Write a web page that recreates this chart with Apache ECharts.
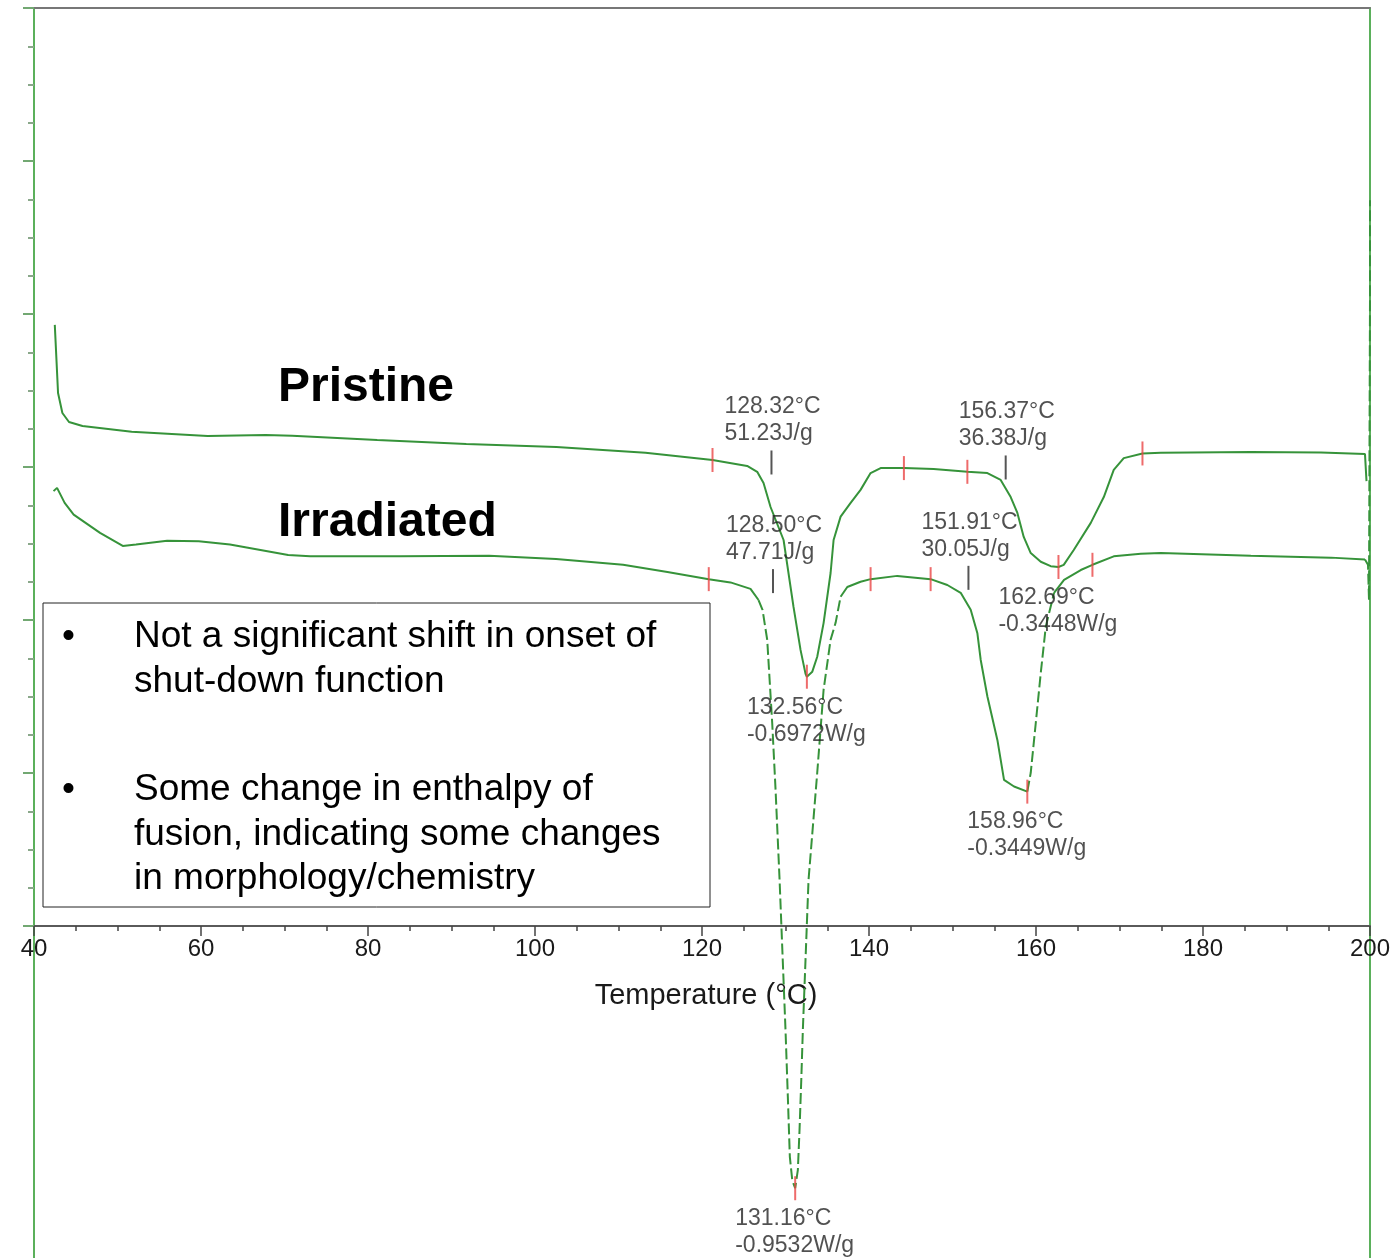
<!DOCTYPE html>
<html>
<head>
<meta charset="utf-8">
<script src="https://cdn.jsdelivr.net/npm/echarts@6/dist/echarts.min.js"></script>
<style>
  html, body { margin: 0; padding: 0; background: #ffffff; }
  #chart { width: 1394px; height: 1258px; }
</style>
</head>
<body>
<div id="chart"></div>
<script>
// DSC heat-flow traces, temperature in °C, heat flow in W/g
const tempP = [42.49, 42.88, 43.40, 44.19, 45.81, 51.70, 60.79, 67.74, 70.92, 81.11, 91.77, 102.56, 113.23, 121.26,
  125.41, 126.61, 127.37, 128.21, 129.77, 130.96, 131.80, 132.40, 132.56, 133.21, 133.80, 134.56, 135.40, 135.76,
  136.60, 137.80, 138.99, 140.19, 141.39, 144.18, 147.74, 151.78, 154.18, 155.77, 156.97, 157.77, 158.53, 159.37,
  160.57, 161.76, 162.69, 163.32, 164.52, 166.56, 168.12, 169.31, 170.51, 172.75, 174.95, 185.73, 194.12, 199.40, 199.58];
const heatFlowP = [0.433, 0.214, 0.150, 0.121, 0.108, 0.090, 0.076, 0.079, 0.077, 0.063, 0.050, 0.041, 0.022, -0.001,
  -0.020, -0.039, -0.075, -0.152, -0.258, -0.473, -0.611, -0.688, -0.6972, -0.681, -0.633, -0.525, -0.364, -0.258,
  -0.183, -0.139, -0.097, -0.043, -0.027, -0.027, -0.030, -0.039, -0.043, -0.065, -0.120, -0.171, -0.248, -0.300,
  -0.328, -0.342, -0.3448, -0.338, -0.290, -0.203, -0.120, -0.033, 0.005, 0.020, 0.022, 0.025, 0.023, 0.018, -0.069];

const tempI = [42.34, 42.76, 43.67, 44.75, 47.91, 50.63, 52.22, 55.94, 59.73, 63.47, 70.44, 73.08, 83.80, 94.51,
  102.52, 110.55, 115.86, 120.81, 123.41, 125.81, 126.77, 127.25, 127.81, 128.41, 128.81, 129.29, 130.00, 130.28,
  130.52, 130.81, 131.16, 131.48, 131.68, 131.89, 132.08, 132.76, 133.80, 134.56, 135.40, 136.00, 136.60, 137.40,
  138.99, 140.19, 143.39, 147.38, 149.38, 150.98, 152.18, 152.98, 153.38, 154.18, 155.38, 156.17, 157.37, 158.96,
  159.37, 159.97, 160.57, 161.17, 162.16, 163.36, 165.36, 166.76, 169.31, 172.55, 174.95, 185.73, 195.32, 199.40,
  199.76, 199.88, 200.00, 200.00];
const heatFlowI = [0.116, 0.121, 0.098, 0.080, 0.052, 0.032, 0.034, 0.040, 0.039, 0.034, 0.018, 0.016, 0.016, 0.017,
  0.012, 0.003, -0.008, -0.019, -0.024, -0.034, -0.051, -0.066, -0.112, -0.240, -0.342, -0.480, -0.710, -0.813,
  -0.905, -0.941, -0.9532, -0.925, -0.864, -0.787, -0.710, -0.480, -0.316, -0.189, -0.112, -0.086, -0.046, -0.031,
  -0.023, -0.019, -0.014, -0.019, -0.028, -0.040, -0.066, -0.102, -0.143, -0.199, -0.266, -0.327, -0.337, -0.3449,
  -0.316, -0.240, -0.163, -0.092, -0.040, -0.020, -0.005, 0.003, 0.016, 0.020, 0.021, 0.017, 0.014, 0.011,
  0.003, -0.051, 0.409, 0.562];

// integration limits
const limitTempP = [121.26, 144.18, 151.78, 172.75];
const limitHFP = [-0.001, -0.027, -0.039, 0.020];
const limitTempI = [120.81, 140.19, 147.38, 166.76];
const limitHFI = [-0.019, -0.019, -0.019, 0.003];

// onset temperatures and enthalpies of fusion
const onsetTempP = [128.32, 156.37];
const enthalpyP = [51.23, 36.38];
const onsetMarkHFP = [-0.009, -0.025];
const onsetTempI = [128.50, 151.91];
const enthalpyI = [47.71, 30.05];
const onsetMarkHFI = [-0.022, -0.017];

// peak temperatures and heat flow
const peakTempP = [132.56, 162.69];
const peakHFP = [-0.6972, -0.3448];
const peakTempI = [131.16, 158.96];
const peakHFI = [-0.9532, -0.3449];

// x-axis
const tempMin = 40, tempMax = 200, tempStep = 20;

const FONT = '"Liberation Sans", Arial, Helvetica, sans-serif';
const CURVE = '#36933a';
const AXIS_GREEN = '#5bb05b';
const LIMIT_RED = '#ea4646';

// steep stretches of the irradiated trace are drawn broken
const brokenSpansI = [[126.77, 136.60], [158.96, 162.16], [199.40, 200.00]];

function zip(a, b) { return a.map((v, i) => [v, b[i]]); }

function splitByStyle(T, V, spans) {
  const pieces = [];
  let cur = null;
  for (let i = 0; i < T.length - 1; i++) {
    const mid = (T[i] + T[i + 1]) / 2;
    const dashed = spans.some(([a, b]) => mid >= a && mid <= b);
    if (!cur || cur.dashed !== dashed) {
      cur = { dashed, data: [[T[i], V[i]]] };
      pieces.push(cur);
    }
    cur.data.push([T[i + 1], V[i + 1]]);
  }
  return pieces;
}

function curveSeries(name, data, yIdx, dashed) {
  return {
    name, type: 'line', data, xAxisIndex: 0, yAxisIndex: yIdx,
    showSymbol: false, symbol: 'none', clip: false, silent: true, z: 3,
    lineStyle: { color: CURVE, width: 2, type: dashed ? [11, 4] : 'solid' }
  };
}

function tickSeries(data, yIdx, color, label) {
  return {
    type: 'scatter', data, xAxisIndex: 0, yAxisIndex: yIdx, clip: false, silent: true, z: 5,
    symbol: 'rect', symbolSize: [2, 24],
    itemStyle: { color },
    label: label || { show: false }
  };
}

const annotationText = { fontFamily: FONT, fontSize: 23, lineHeight: 27, color: '#262626', align: 'left', verticalAlign: 'top' };

const onsetLabel = (enth) => Object.assign({
  show: true, position: [-46, -57],
  formatter: (p) => p.value[0].toFixed(2) + '°C\n' + enth[p.dataIndex].toFixed(2) + 'J/g'
}, annotationText);

const peakLabel = Object.assign({
  show: true, position: [-59, 29],
  formatter: (p) => p.value[0].toFixed(2) + '°C\n' + p.value[1].toFixed(4) + 'W/g'
}, annotationText);

const series = [];
series.push(curveSeries('Pristine', zip(tempP, heatFlowP), 2, false));
splitByStyle(tempI, heatFlowI, brokenSpansI).forEach(piece => {
  series.push(curveSeries('Irradiated', piece.data, 3, piece.dashed));
});
series.push(tickSeries(zip(limitTempP, limitHFP), 2, LIMIT_RED));
series.push(tickSeries(zip(limitTempI, limitHFI), 3, LIMIT_RED));
series.push(tickSeries(zip(peakTempP, peakHFP), 2, LIMIT_RED, peakLabel));
series.push(tickSeries(zip(peakTempI, peakHFI), 3, LIMIT_RED, peakLabel));
series.push(tickSeries(zip(onsetTempP, onsetMarkHFP), 2, '#2a2a2a', onsetLabel(enthalpyP)));
series.push(tickSeries(zip(onsetTempI, onsetMarkHFI), 3, '#2a2a2a', onsetLabel(enthalpyI)));

const chart = echarts.init(document.getElementById('chart'), null, { renderer: 'canvas' });

chart.setOption({
  animation: false,
  backgroundColor: '#ffffff',
  grid: [
    { left: 34, right: 24, top: 8, height: 918 },
    { left: 34, right: 24, top: 926, bottom: 0 }
  ],
  xAxis: [
    {
      type: 'value', gridIndex: 0, position: 'bottom', min: tempMin, max: tempMax, interval: tempStep,
      axisLine: { show: true, onZero: false, lineStyle: { color: '#5a5a5a', width: 2 } },
      axisTick: { show: true, length: 10, lineStyle: { color: '#444', width: 1.5 } },
      minorTick: { show: true, splitNumber: 4, length: 5, lineStyle: { color: '#444', width: 1.5 } },
      axisLabel: { fontFamily: FONT, fontSize: 24, color: '#1a1a1a', margin: 11 },
      splitLine: { show: false },
      name: 'Temperature (°C)', nameLocation: 'middle', nameGap: 55,
      nameTextStyle: { fontFamily: FONT, fontSize: 29, color: '#1a1a1a', padding: [0, 0, 0, 8] }
    },
    {
      type: 'value', gridIndex: 0, position: 'top', min: tempMin, max: tempMax,
      axisLine: { show: true, onZero: false, lineStyle: { color: '#777', width: 2 } },
      axisTick: { show: false }, axisLabel: { show: false }, splitLine: { show: false }
    },
    {
      type: 'value', gridIndex: 1, min: tempMin, max: tempMax, show: false
    }
  ],
  yAxis: [
    {
      type: 'value', gridIndex: 0, position: 'left', min: 0, max: 6, interval: 1,
      axisLine: { show: true, onZero: false, lineStyle: { color: AXIS_GREEN, width: 2 } },
      axisTick: { show: true, length: 11, lineStyle: { color: '#72a872', width: 2 } },
      minorTick: { show: true, splitNumber: 4, length: 6, lineStyle: { color: '#8aa88a', width: 2 } },
      axisLabel: { show: false }, splitLine: { show: false }
    },
    {
      type: 'value', gridIndex: 0, position: 'right', min: 0, max: 6,
      axisLine: { show: true, onZero: false, lineStyle: { color: AXIS_GREEN, width: 2 } },
      axisTick: { show: false }, axisLabel: { show: false }, splitLine: { show: false }
    },
    { type: 'value', gridIndex: 0, min: -1.498, max: 1.451, show: false },
    { type: 'value', gridIndex: 0, min: -0.551, max: 0.857, show: false },
    {
      type: 'value', gridIndex: 1, position: 'left', min: 0, max: 1,
      axisLine: { show: true, onZero: false, lineStyle: { color: AXIS_GREEN, width: 2 } },
      axisTick: { show: false }, axisLabel: { show: false }, splitLine: { show: false }
    },
    {
      type: 'value', gridIndex: 1, position: 'right', min: 0, max: 1,
      axisLine: { show: true, onZero: false, lineStyle: { color: AXIS_GREEN, width: 2 } },
      axisTick: { show: false }, axisLabel: { show: false }, splitLine: { show: false }
    }
  ],
  series,
  graphic: [
    { type: 'text', z: 10, style: { text: 'Pristine', x: 278, y: 388, font: 'bold 48px ' + FONT, fill: '#000', verticalAlign: 'middle', align: 'left' } },
    { type: 'text', z: 10, style: { text: 'Irradiated', x: 278, y: 523, font: 'bold 48px ' + FONT, fill: '#000', verticalAlign: 'middle', align: 'left' } },
    {
      type: 'group', z: 10,
      children: [
        { type: 'rect', shape: { x: 43, y: 603, width: 667, height: 304 }, style: { fill: '#fff', stroke: '#222', lineWidth: 1 } },
        { type: 'text', style: { text: '•', x: 62, y: 637, font: '37px ' + FONT, fill: '#000', verticalAlign: 'middle' } },
        { type: 'text', style: { text: 'Not a significant shift in onset of', x: 134, y: 637, font: '37px ' + FONT, fill: '#000', verticalAlign: 'middle' } },
        { type: 'text', style: { text: 'shut-down function', x: 134, y: 682, font: '37px ' + FONT, fill: '#000', verticalAlign: 'middle' } },
        { type: 'text', style: { text: '•', x: 62, y: 790, font: '37px ' + FONT, fill: '#000', verticalAlign: 'middle' } },
        { type: 'text', style: { text: 'Some change in enthalpy of', x: 134, y: 790, font: '37px ' + FONT, fill: '#000', verticalAlign: 'middle' } },
        { type: 'text', style: { text: 'fusion, indicating some changes', x: 134, y: 835, font: '37px ' + FONT, fill: '#000', verticalAlign: 'middle' } },
        { type: 'text', style: { text: 'in morphology/chemistry', x: 134, y: 879, font: '37px ' + FONT, fill: '#000', verticalAlign: 'middle' } }
      ]
    }
  ]
});
</script>
</body>
</html>
